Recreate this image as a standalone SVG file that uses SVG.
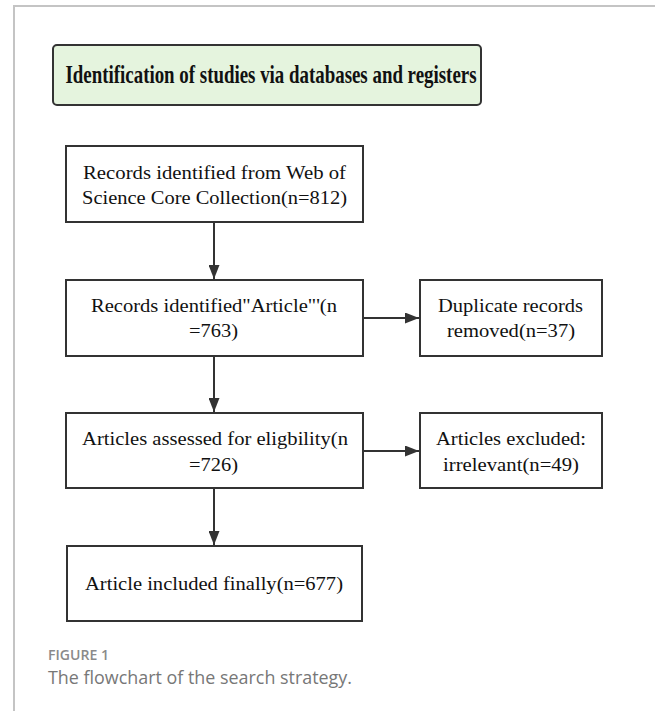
<svg xmlns="http://www.w3.org/2000/svg" width="655" height="711" viewBox="0 0 655 711">
<style>
.box{fill:#fff;stroke:#333;stroke-width:2}
.t{font-family:"Liberation Serif","Times New Roman",serif;font-size:19px;fill:#111;text-anchor:middle}
.conn{stroke:#333;stroke-width:2;fill:none}
.frame{stroke:#c4c4c4;stroke-width:2;fill:none}
</style>
<defs>
<marker id="ah" markerWidth="14" markerHeight="11" refX="14" refY="5.5" orient="auto" markerUnits="userSpaceOnUse" viewBox="0 0 14 11">
<path d="M0,0 L14,5.5 L0,11 z" fill="#333"/>
</marker>
</defs>
<rect width="655" height="711" fill="#fff"/>
<path class="frame" d="M14,711 V6 H655"/>
<g id="title">
<rect x="53" y="45" width="428" height="60" rx="4" fill="#e5f4de" stroke="#333" stroke-width="2"/>
<text x="271" y="83" font-family="Liberation Serif,'Times New Roman',serif" font-size="25" font-weight="bold" fill="#111" text-anchor="middle" textLength="411" lengthAdjust="spacingAndGlyphs">Identification of studies via databases and registers</text>
</g>
<g id="n1">
<rect class="box" x="66" y="146" width="297" height="76"/>
<text class="t" x="214.5" y="179" textLength="263" lengthAdjust="spacingAndGlyphs">Records identified from Web of</text>
<text class="t" x="214.5" y="204" textLength="265" lengthAdjust="spacingAndGlyphs">Science Core Collection(n=812)</text>
</g>
<g id="n2">
<rect class="box" x="66" y="280" width="297" height="76"/>
<text class="t" x="214" y="312" textLength="246" lengthAdjust="spacingAndGlyphs">Records identified"Article"'(n</text>
<text class="t" x="213.5" y="337" textLength="49" lengthAdjust="spacingAndGlyphs">=763)</text>
</g>
<g id="n3">
<rect class="box" x="420" y="280" width="182" height="76"/>
<text class="t" x="510.5" y="312" textLength="145" lengthAdjust="spacingAndGlyphs">Duplicate records</text>
<text class="t" x="511" y="337" textLength="128" lengthAdjust="spacingAndGlyphs">removed(n=37)</text>
</g>
<g id="n4">
<rect class="box" x="66" y="413" width="297" height="75"/>
<text class="t" x="215" y="445" textLength="266" lengthAdjust="spacingAndGlyphs">Articles assessed for eligbility(n</text>
<text class="t" x="213.5" y="471" textLength="49" lengthAdjust="spacingAndGlyphs">=726)</text>
</g>
<g id="n5">
<rect class="box" x="420" y="413" width="182" height="75"/>
<text class="t" x="511" y="445" textLength="150" lengthAdjust="spacingAndGlyphs">Articles excluded:</text>
<text class="t" x="511" y="471" textLength="136" lengthAdjust="spacingAndGlyphs">irrelevant(n=49)</text>
</g>
<g id="n6">
<rect class="box" x="67" y="546" width="295" height="75"/>
<text class="t" x="214" y="590" textLength="258" lengthAdjust="spacingAndGlyphs">Article included finally(n=677)</text>
</g>
<g id="connectors">
<line class="conn" x1="214" y1="222" x2="214" y2="279" marker-end="url(#ah)"/>
<line class="conn" x1="363" y1="318" x2="419" y2="318" marker-end="url(#ah)"/>
<line class="conn" x1="214" y1="356" x2="214" y2="412" marker-end="url(#ah)"/>
<line class="conn" x1="363" y1="451" x2="419" y2="451" marker-end="url(#ah)"/>
<line class="conn" x1="214" y1="488" x2="214" y2="545" marker-end="url(#ah)"/>
</g>
<text x="48" y="660" font-family="'Open Sans','Noto Sans',sans-serif" font-size="14" font-weight="600" fill="#8a8a8a" textLength="61" lengthAdjust="spacingAndGlyphs">FIGURE 1</text>
<text x="48" y="684" font-family="'Open Sans','Noto Sans',sans-serif" font-size="17.5" fill="#777" textLength="304" lengthAdjust="spacingAndGlyphs">The flowchart of the search strategy.</text>
</svg>
